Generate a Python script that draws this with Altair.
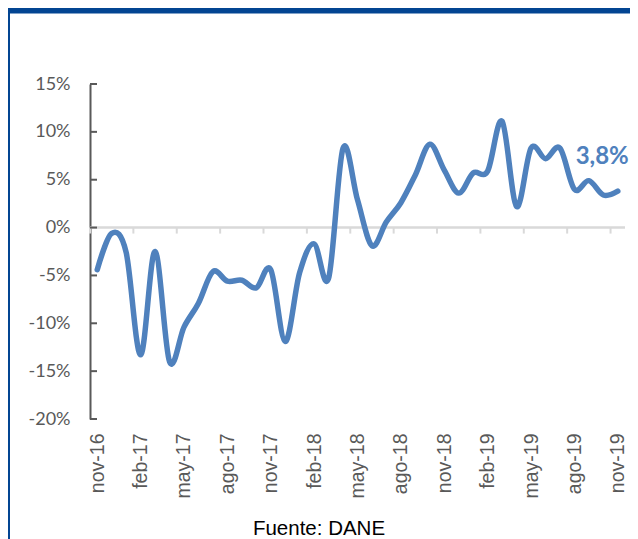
import altair as alt
import pandas as pd

months = ["nov-16", "dic-16", "ene-17", "feb-17", "mar-17", "abr-17", "may-17", "jun-17",
          "jul-17", "ago-17", "sep-17", "oct-17", "nov-17", "dic-17", "ene-18", "feb-18",
          "mar-18", "abr-18", "may-18", "jun-18", "jul-18", "ago-18", "sep-18", "oct-18",
          "nov-18", "dic-18", "ene-19", "feb-19", "mar-19", "abr-19", "may-19", "jun-19",
          "jul-19", "ago-19", "sep-19", "oct-19", "nov-19"]
values = [-4.4, -0.6, -2.6, -13.3, -2.5, -14.0, -10.4, -7.9, -4.6, -5.6, -5.5, -6.3,
          -4.4, -11.9, -4.7, -1.7, -5.3, 8.3, 2.9, -1.9, 0.6, 2.6, 5.5, 8.7,
          6.0, 3.6, 5.7, 5.9, 11.1, 2.2, 8.3, 7.2, 8.3, 4.0, 4.9, 3.4, 3.8]
y_ticks = [-20, -15, -10, -5, 0, 5, 10, 15]
x_tick_idx = list(range(0, len(months), 3))
last_label = "3,8%"
source_text = "Fuente: DANE"

W, H = 535, 335
BLUE = "#4F81BD"
FRAME = "#034592"
GRAY = "#595959"

df = pd.DataFrame({"idx": list(range(len(months))), "mes": months, "valor": values})
bounds = pd.DataFrame({"b": [i - 0.5 for i in x_tick_idx], "z": [0] * len(x_tick_idx)})
yt = pd.DataFrame({"v": y_ticks})
zero = pd.DataFrame({"x0": [-0.5], "x1": [len(months) - 0.5], "y": [0]})
ann = df.tail(1).assign(label=last_label)
one = pd.DataFrame({"t": [source_text]})

label_expr = "[" + ",".join(f"'{m}'" for m in months) + "][datum.value]"

xscale = alt.Scale(domain=[-0.5, len(months) - 0.5], nice=False, zero=False)
yscale = alt.Scale(domain=[-20, 15], nice=False, zero=False)

x_axis = alt.Axis(values=x_tick_idx, labelExpr=label_expr, labelAngle=-90,
                  labelAlign="right", labelBaseline="middle", labelPadding=14,
                  labelFont="Liberation Sans", labelFontSize=19.5, labelColor=GRAY,
                  domain=False, ticks=False, grid=False, title=None,
                  labelFlush=False, labelOverlap=False, labelBound=False)
y_axis = alt.Axis(values=y_ticks, labelExpr="datum.value + '%'", labelFont="Lato",
                  labelFontSize=18, labelColor=GRAY, labelPadding=20, ticks=False,
                  domain=True, domainColor=GRAY, domainWidth=2, grid=False, title=None)


def X(field):
    return alt.X(field, scale=xscale, axis=x_axis)


def Y(field):
    return alt.Y(field, scale=yscale, axis=y_axis)


zero_line = alt.Chart(zero).mark_rule(color="#D9D9D9", strokeWidth=2.5).encode(
    x=X("x0:Q"), x2="x1:Q", y=Y("y:Q"))

x_ticks = alt.Chart(bounds).mark_rule(color="#D9D9D9", strokeWidth=2, y2Offset=6).encode(
    x=X("b:Q"), y=Y("z:Q"), y2="z:Q")

y_tick_marks = alt.Chart(yt).mark_rule(color=GRAY, strokeWidth=2).encode(
    y=Y("v:Q"), x=alt.value(0), x2=alt.value(7))

line = alt.Chart(df).mark_line(color=BLUE, strokeWidth=5.5, interpolate="cardinal",
                               tension=0, strokeCap="round", strokeJoin="round").encode(
    x=X("idx:Q"), y=Y("valor:Q"))

label = alt.Chart(ann).mark_text(font="Lato", fontWeight="bold", fontSize=24,
                                 color=BLUE, align="right", dx=11, dy=-34).encode(
    x=X("idx:Q"), y=Y("valor:Q"), text="label:N")

frame_left = alt.Chart(one).mark_rect(color=FRAME).encode(
    x=alt.value(-82), x2=alt.value(-80), y=alt.value(-76), y2=alt.value(456))
frame_top = alt.Chart(one).mark_rect(color=FRAME).encode(
    x=alt.value(-82), x2=alt.value(545), y=alt.value(-76), y2=alt.value(-70.6))

source = alt.Chart(one).mark_text(font="Liberation Sans", fontSize=20.5, color="#000000",
                                  baseline="alphabetic", align="center").encode(
    x=alt.value(229), y=alt.value(451), text="t:N")

chart = alt.layer(zero_line, x_ticks, y_tick_marks, line, label, frame_left, frame_top,
                  source).properties(
    width=W, height=H,
    autosize=alt.AutoSizeParams(type="none"),
    padding={"left": 82, "top": 76, "right": 5, "bottom": 120},
    background="white",
).configure_view(stroke=None)

chart.save("out.html", embed_options={"renderer": "svg", "actions": False})
